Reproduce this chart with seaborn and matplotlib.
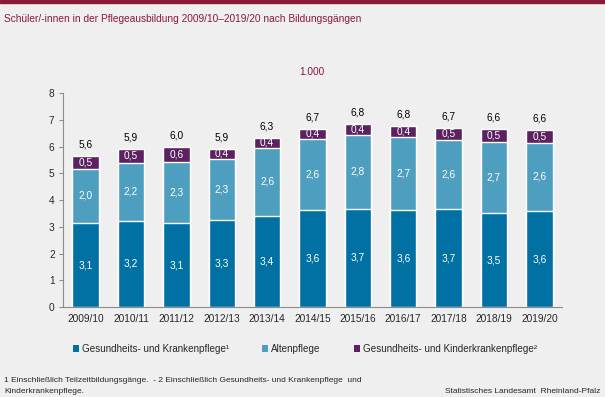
import matplotlib
matplotlib.use("Agg")
import matplotlib.pyplot as plt
import pandas as pd
import seaborn as sns
from matplotlib.patches import Patch

years = ["2009/10", "2010/11", "2011/12", "2012/13", "2013/14", "2014/15",
         "2015/16", "2016/17", "2017/18", "2018/19", "2019/20"]
kranken = [3.14, 3.22, 3.14, 3.26, 3.40, 3.64, 3.68, 3.64, 3.66, 3.51, 3.58]
alten = [2.02, 2.18, 2.28, 2.28, 2.56, 2.63, 2.76, 2.72, 2.58, 2.66, 2.57]
kinder = [0.48, 0.50, 0.57, 0.38, 0.37, 0.40, 0.39, 0.40, 0.46, 0.47, 0.47]

series_names = ["Gesundheits- und Krankenpflege¹", "Altenpflege",
                "Gesundheits- und Kinderkrankenpflege²"]
colors = ["#0071a2", "#4e9ec0", "#5b2160"]
bg = "#eeefee"
red = "#8b1a3a"


def fmt(v):
    return f"{v:.1f}".replace(".", ",")


df = pd.DataFrame({"year": years, "k": kranken, "a": alten, "c": kinder})
df["ka"] = df["k"] + df["a"]
df["total"] = df["ka"] + df["c"]

sns.set_style("white")
plt.rcParams["font.family"] = ["Liberation Sans", "DejaVu Sans"]

fig = plt.figure(figsize=(6.05, 3.97), dpi=100, facecolor=bg)
ax = fig.add_axes([0.104, 0.2267, 0.825, 0.539])
ax.set_facecolor(bg)

# stacked bars: draw cumulative totals back to front
w = 0.58
sns.barplot(data=df, x="year", y="total", color=colors[2], width=w, saturation=1, ax=ax)
sns.barplot(data=df, x="year", y="ka", color=colors[1], width=w, saturation=1, ax=ax)
sns.barplot(data=df, x="year", y="k", color=colors[0], width=w, saturation=1, ax=ax)

fs = 7.3
for i, row in df.iterrows():
    ax.text(i, row["k"] / 2, fmt(row["k"]), ha="center", va="center", color="white", fontsize=fs)
    ax.text(i, row["k"] + row["a"] / 2, fmt(row["a"]), ha="center", va="center", color="white", fontsize=fs)
    ax.text(i, row["ka"] + row["c"] / 2, fmt(row["c"]), ha="center", va="center", color="white", fontsize=fs)
    ax.text(i, row["total"] + 0.24, fmt(row["total"]), ha="center", va="bottom", color="black", fontsize=fs)

ax.set_xlim(-0.5, 10.5)
ax.set_ylim(0, 8)
ax.set_yticks(range(0, 9))
ax.set_xlabel("")
ax.set_ylabel("")
for s in ["top", "right"]:
    ax.spines[s].set_visible(False)
for s in ["left", "bottom"]:
    ax.spines[s].set_color("#8c8c8c")
    ax.spines[s].set_linewidth(0.8)
ax.tick_params(axis="y", length=3, color="#8c8c8c", labelsize=fs, pad=3, left=True)
ax.tick_params(axis="x", length=0, labelsize=fs, pad=5)

# header
fig.add_artist(plt.Rectangle((0, 1 - 3 / 397), 1, 3 / 397, color=red, transform=fig.transFigure))
fig.text(4 / 605, 1 - 19 / 397, "Schüler/-innen in der Pflegeausbildung 2009/10–2019/20 nach Bildungsgängen",
         color=red, fontsize=7.3, va="center", ha="left")
fig.text(312 / 605, 1 - 72 / 397, "1.000", color=red, fontsize=fs, va="center", ha="center")

handles = [Patch(facecolor=c, edgecolor="none") for c in colors]
fig.legend(handles, series_names, loc="center", bbox_to_anchor=(305 / 605, 1 - 349 / 397), ncol=3,
           frameon=False, fontsize=7.1, handlelength=0.6, handleheight=0.6,
           handletextpad=0.3, columnspacing=3.4, borderpad=0)

fig.text(4 / 605, 1 - 381 / 397,
         "1 Einschließlich Teilzeitbildungsgänge.  - 2 Einschließlich Gesundheits- und Krankenpflege  und",
         fontsize=6.0, va="center", ha="left")
fig.text(4 / 605, 1 - 391.5 / 397, "Kinderkrankenpflege.", fontsize=6.0, va="center", ha="left")
fig.text(600 / 605, 1 - 391.5 / 397, "Statistisches Landesamt  Rheinland-Pfalz",
         fontsize=6.0, va="center", ha="right")

fig.savefig("out.png", dpi=100, facecolor=bg)
plt.close(fig)
